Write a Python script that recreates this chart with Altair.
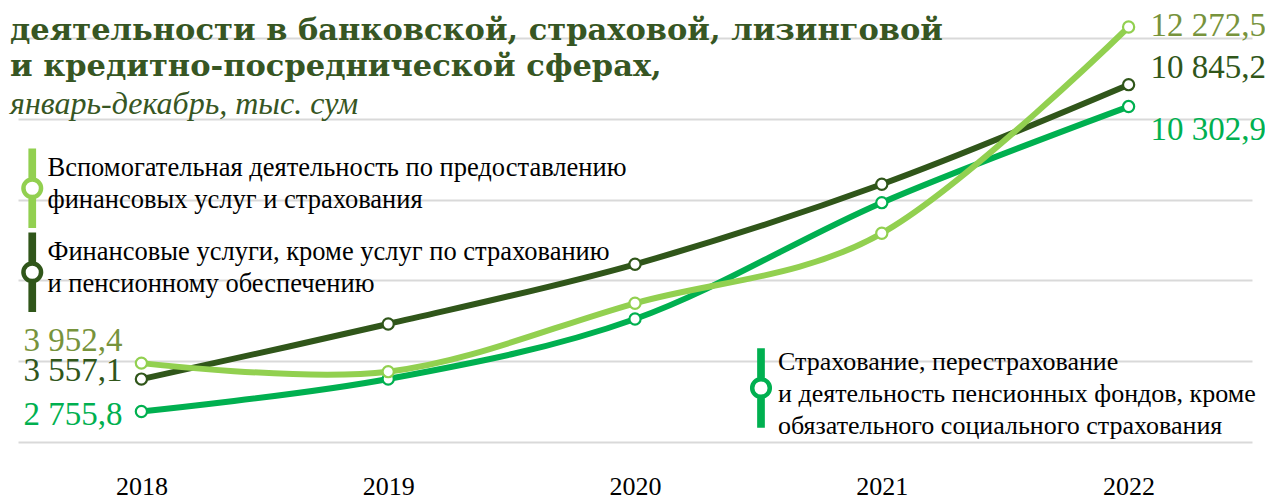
import altair as alt
import pandas as pd

# ---------------- data ----------------
years = ["2018", "2019", "2020", "2021", "2022"]

series_keys = ["fin", "aux", "ins"]
series_names = {
    "aux": "Вспомогательная деятельность по предоставлению\nфинансовых услуг и страхования",
    "fin": "Финансовые услуги, кроме услуг по страхованию\nи пенсионному обеспечению",
    "ins": "Страхование, перестрахование\nи деятельность пенсионных фондов, кроме\nобязательного социального страхования",
}

aux_values = [3952.4, 3741.0, 5434.0, 7166.0, 12272.5]
fin_values = [3557.1, 4921.0, 6399.0, 8379.0, 10845.2]
ins_values = [2755.8, 3560.0, 5045.0, 7924.0, 10302.9]

grid_values = [2000, 4000, 6000, 8000, 10000, 12000]

title_lines = [
    "деятельности в банковской, страховой, лизинговой",
    "и кредитно-посреднической сферах,",
]
subtitle_text = "январь-декабрь, тыс. сум"

# ---------------- styles ----------------
line_colors = {"aux": "#92D050", "fin": "#30561A", "ins": "#00B050"}
label_colors = {"aux": "#77933C", "fin": "#30561A", "ins": "#00B050"}
first_dy = {"aux": -22, "fin": -8, "ins": 4}
last_dy = {"aux": -1, "fin": -17, "ins": 23}
group_of = {"aux": "A", "fin": "A", "ins": "B"}

values_of = {"aux": aux_values, "fin": fin_values, "ins": ins_values}


def fmt(v):
    return f"{v:,.1f}".replace(",", " ").replace(".", ",")


rows = []
for key in series_keys:
    for i, y in enumerate(years):
        v = values_of[key][i]
        rows.append(
            {
                "key": key,
                "series": series_names[key],
                "group": group_of[key],
                "year": y,
                "value": v,
                "label": fmt(v),
            }
        )
df = pd.DataFrame(rows)

SERIF = "Liberation Serif"

x_enc = alt.X(
    "year:O",
    sort=years,
    scale=alt.Scale(type="point", padding=0.5),
    axis=alt.Axis(
        title=None,
        domain=False,
        ticks=False,
        tickSize=0,
        grid=False,
        labelAngle=0,
        labelPadding=31,
        labelFont=SERIF,
        labelFontSize=26,
        labelColor="#000000",
    ),
)
y_enc = alt.Y(
    "value:Q",
    scale=alt.Scale(domain=[2000, 12000], nice=False, zero=False),
    axis=alt.Axis(
        title=None,
        values=grid_values,
        domain=False,
        ticks=False,
        labels=False,
        grid=True,
        gridColor="#D9D9D9",
        gridWidth=2,
    ),
)

base = alt.Chart(df).encode(x=x_enc, y=y_enc)


def symbol_path(shift):
    c = shift
    hw = 0.16
    return (
        f"M{-hw},{c - 3.75} L{hw},{c - 3.75} L{hw},{c - 1.1} L{-hw},{c - 1.1} Z "
        f"M{-hw},{c + 1.1} L{hw},{c + 1.1} L{hw},{c + 3.75} L{-hw},{c + 3.75} Z "
        f"M0.88,{c} A0.88,0.88 0 1,1 -0.88,{c} A0.88,0.88 0 1,1 0.88,{c} Z"
    )


def legend(x, y, shift, offset, size, row_pad):
    return alt.Legend(
        title=None,
        orient="none",
        legendX=x,
        legendY=y,
        direction="vertical",
        symbolType=symbol_path(shift),
        symbolSize=400,
        symbolStrokeWidth=4.5,
        symbolFillColor="white",
        labelFont=SERIF,
        labelFontSize=size,
        labelColor="#000000",
        labelLimit=2000,
        labelOffset=offset,
        rowPadding=row_pad,
        padding=0,
        labelExpr="split(datum.label, '\\n')",
    )


line_b = (
    base.transform_filter(alt.datum.group == "B")
    .mark_line(interpolate="cardinal", strokeWidth=6)
    .encode(
        color=alt.Color(
            "series:N",
            scale=alt.Scale(domain=[series_names["ins"]], range=[line_colors["ins"]]),
            legend=legend(730, 311, 2.6, 4, 26, 0),
        )
    )
)
line_a = (
    base.transform_filter(alt.datum.group == "A")
    .mark_line(interpolate="cardinal", strokeWidth=6)
    .encode(
        color=alt.Color(
            "series:N",
            scale=alt.Scale(
                domain=[series_names["aux"], series_names["fin"]],
                range=[line_colors["aux"], line_colors["fin"]],
            ),
            legend=legend(1, 117, 2.0, 2, 26.5, -10),
        )
    )
)

layers = [line_b, line_a]

for key in ["ins", "fin", "aux"]:
    layers.append(
        base.transform_filter(alt.datum.key == key).mark_point(
            filled=True, fill="white", stroke=line_colors[key], strokeWidth=2.2,
            size=125, opacity=1,
        )
    )

for key in ["aux", "fin", "ins"]:
    layers.append(
        base.transform_filter((alt.datum.key == key) & (alt.datum.year == years[0]))
        .mark_text(align="right", baseline="middle", dx=-19, dy=first_dy[key],
                   font=SERIF, fontSize=33, color=label_colors[key])
        .encode(text="label:N")
    )
    layers.append(
        base.transform_filter((alt.datum.key == key) & (alt.datum.year == years[-1]))
        .mark_text(align="left", baseline="middle", dx=22, dy=last_dy[key],
                   font=SERIF, fontSize=33, color=label_colors[key])
        .encode(text="label:N")
    )

chart = (
    alt.layer(*layers)
    .resolve_scale(color="independent")
    .properties(
        width=1234,
        height=404,
        autosize=alt.AutoSizeParams(type="none"),
        padding={"left": 10, "top": 30, "right": 13, "bottom": 57},
        title=alt.Title(
            text=title_lines,
            subtitle=subtitle_text,
            anchor="start",
            frame="group",
            orient="top",
            dx=-8,
            offset=-110,
            font="DejaVu Serif",
            fontSize=30.5,
            fontWeight="bold",
            color="#375623",
            lineHeight=36,
            subtitleFont=SERIF,
            subtitleFontSize=32,
            subtitleFontStyle="italic",
            subtitleColor="#375623",
            subtitlePadding=6,
        ),
    )
    .configure(
        background="white",
        view=alt.ViewConfig(stroke=None),
        style={"guide-label": {"lineHeight": 32}},
    )
)

chart.save("out.html", embed_options={"renderer": "svg", "actions": False})
